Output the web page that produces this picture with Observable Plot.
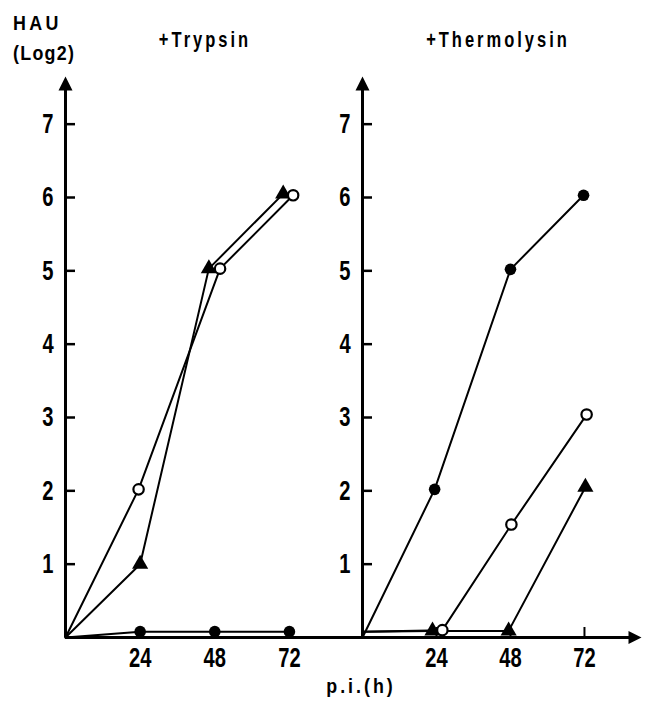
<!DOCTYPE html>
<html><head><meta charset="utf-8">
<script src="https://cdn.jsdelivr.net/npm/d3@7"></script>
<script src="https://cdn.jsdelivr.net/npm/@observablehq/plot@0.6"></script>
<style>
body{margin:0;background:#fff}
#wrap{position:relative;width:645px;height:702px;overflow:hidden;font-family:"Liberation Sans",Arial,sans-serif;font-weight:bold;color:#000}
.lbl{position:absolute;white-space:nowrap;line-height:1}
#wrap svg{position:absolute;top:0}
</style></head><body><div id="wrap"></div>
<script>
// ---- text ----
const panelTitles = ["+Trypsin", "+Thermolysin"];
const yLabelLines = ["HAU", "(Log2)"];
const xLabel = "p.i.(h)";
const yTicks = [1, 2, 3, 4, 5, 6, 7];
const xTicks = [24, 48, 72];

// ---- +Trypsin (x = hours p.i., y = HAU log2) ----
const tryOpenX = [0, 23.5, 49.7, 73.2];
const tryOpenY = [0, 2.02, 5.03, 6.03];
const tryTriX  = [0, 24, 46.1, 70];
const tryTriY  = [0, 1.0, 5.03, 6.05];
const tryFillX = [0, 24, 48, 72];
const tryFillY = [0, 0.08, 0.08, 0.08];

// ---- +Thermolysin ----
const thFillX = [0, 23.4, 48, 71.7];
const thFillY = [0, 2.02, 5.02, 6.03];
const thOpenX = [0, 25.9, 48.3, 72.7];
const thOpenY = [0.08, 0.1, 1.54, 3.04];
const thTriX  = [0, 22.7, 47.4, 72.3];
const thTriY  = [0.08, 0.09, 0.09, 2.05];

const FONT = '"Liberation Sans",Arial,sans-serif';
const yMax = 7.65;
const NARROW = 0.72;

function rows(series, xs, ys) {
  return xs.map((x, i) => ({series, x, y: ys[i], i}));
}

const arrowUp = {draw(ctx) { ctx.moveTo(0, 0); ctx.lineTo(7, 14); ctx.lineTo(-7, 14); ctx.closePath(); }};
const arrowRight = {draw(ctx) { ctx.moveTo(0, 0); ctx.lineTo(-13, -6.5); ctx.lineTo(-13, 6.5); ctx.closePath(); }};

// condense the tick-label glyphs horizontally around their anchor (svg must be in the DOM)
function narrowText(svg, k) {
  svg.querySelectorAll("text").forEach(t => {
    const holder = t.closest("[text-anchor]");
    const anchor = holder ? holder.getAttribute("text-anchor") : "middle";
    const r = t.getBoundingClientRect();
    const cx = anchor === "end" ? r.right : anchor === "start" ? r.left : (r.left + r.right) / 2;
    const pt = svg.createSVGPoint();
    pt.x = cx; pt.y = r.top;
    const p = pt.matrixTransform(t.parentNode.getScreenCTM().inverse());
    const g = document.createElementNS("http://www.w3.org/2000/svg", "g");
    g.setAttribute("transform", `translate(${p.x},0) scale(${k},1) translate(${-p.x},0)`);
    t.parentNode.insertBefore(g, t);
    g.appendChild(t);
  });
}

function panel({data, xMax, width, marginRight, xArrow}) {
  const mt = 76, mb = 65, ml = 65, height = 702;
  const frameW = width - ml - marginRight, frameH = height - mt - mb;
  const pts = data.filter(d => d.i > 0);
  const marks = [
    Plot.ruleX([0], {stroke: "black", strokeWidth: 3, insetTop: 8}),
    Plot.ruleY([0], {stroke: "black", strokeWidth: 3, insetRight: xArrow ? 8 : 0}),
    Plot.tickY(yTicks, {y: d => d, stroke: "black", strokeWidth: 2.5, insetRight: frameW - 10}),
    Plot.tickX(xTicks, {x: d => d, stroke: "black", strokeWidth: 2, insetTop: frameH - 10}),
    Plot.dot([{x: 0, y: yMax}], {x: "x", y: "y", symbol: arrowUp, fill: "black", stroke: "none"}),
    Plot.text(yTicks, {x: 0, y: d => d, text: d => String(d), textAnchor: "end", dx: -12, fontSize: 28, fontWeight: "bold"}),
    Plot.text(xTicks, {x: d => d, y: 0, text: d => String(d), dy: 21, fontSize: 28, fontWeight: "bold"}),
    Plot.line(data, {x: "x", y: "y", z: "series", stroke: "black", strokeWidth: 2}),
    Plot.dot(pts.filter(d => d.series === "fill"), {x: "x", y: "y", r: 5.8, fill: "black", stroke: "none"}),
    Plot.dot(pts.filter(d => d.series === "tri"), {x: "x", y: "y", r: 6, symbol: "triangle", fill: "black", stroke: "none"}),
    Plot.dot(pts.filter(d => d.series === "open"), {x: "x", y: "y", r: 5.2, fill: "white", stroke: "black", strokeWidth: 2.2})
  ];
  if (xArrow) marks.push(Plot.dot([{x: xMax, y: 0}], {x: "x", y: "y", symbol: arrowRight, fill: "black", stroke: "none"}));
  return Plot.plot({
    width, height, marginLeft: ml, marginRight, marginTop: mt, marginBottom: mb,
    x: {domain: [0, xMax], axis: null},
    y: {domain: [0, yMax], axis: null},
    style: {background: "transparent", overflow: "visible", fontFamily: FONT, color: "black"},
    marks
  });
}

const wrap = document.getElementById("wrap");
const left = panel({
  data: [...rows("open", tryOpenX, tryOpenY), ...rows("tri", tryTriX, tryTriY), ...rows("fill", tryFillX, tryFillY)],
  xMax: 95.5, width: 362, marginRight: 0, xArrow: false
});
left.style.left = "0px";
const right = panel({
  data: [...rows("fill", thFillX, thFillY), ...rows("open", thOpenX, thOpenY), ...rows("tri", thTriX, thTriY)],
  xMax: 90.5, width: 348, marginRight: 4, xArrow: true
});
right.style.left = "297px";
wrap.append(left, right);
narrowText(left, NARROW);
narrowText(right, NARROW);

function label(text, css) {
  const d = document.createElement("div");
  d.className = "lbl";
  d.textContent = text;
  Object.assign(d.style, css);
  wrap.append(d);
}
label(yLabelLines[0], {left: "13px", top: "12px", fontSize: "21px", letterSpacing: "4px", transform: "scaleX(0.85)", transformOrigin: "left"});
label(yLabelLines[1], {left: "13px", top: "42px", fontSize: "21px", letterSpacing: "1.5px", transform: "scaleX(0.85)", transformOrigin: "left"});
label(panelTitles[0], {left: "205px", top: "29px", fontSize: "22px", letterSpacing: "4px", transform: "translateX(-50%) scaleX(0.75)"});
label(panelTitles[1], {left: "498px", top: "29px", fontSize: "22px", letterSpacing: "4px", transform: "translateX(-50%) scaleX(0.75)"});
label(xLabel, {left: "361px", top: "675px", fontSize: "21px", letterSpacing: "3.5px", transform: "translateX(-50%) scaleX(0.85)"});
</script></body></html>
